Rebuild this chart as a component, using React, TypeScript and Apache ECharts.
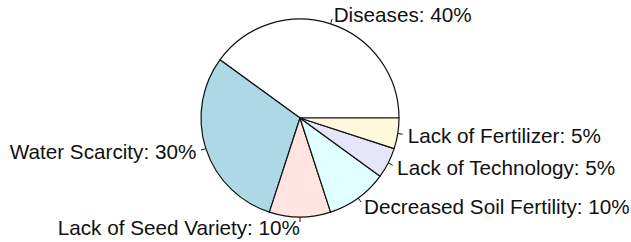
import React, { useEffect, useRef } from "react";
import * as echarts from "echarts";

const categories = [
  "Diseases",
  "Water Scarcity",
  "Lack of Seed Variety",
  "Decreased Soil Fertility",
  "Lack of Technology",
  "Lack of Fertilizer",
];
const values = [40, 30, 10, 10, 5, 5];
const colors = ["#FFFFFF", "#ADD8E6", "#FFE4E1", "#E0FFFF", "#E6E6FA", "#FFF8DC"];

export default function App() {
  const ref = useRef<HTMLDivElement>(null);
  useEffect(() => {
    if (!ref.current) return;
    const chart = echarts.init(ref.current, null, { renderer: "svg" });
    const data = categories.map((name, i) => ({
      name,
      value: values[i],
      itemStyle: { color: colors[i] },
    }));
    const center = [300, 118];
    const radius = 99;
    chart.setOption({
      animation: false,
      backgroundColor: "#ffffff",
      series: [
        {
          type: "pie",
          center,
          radius,
          startAngle: 0,
          clockwise: false,
          avoidLabelOverlap: false,
          silent: true,
          data,
          itemStyle: { borderColor: "#111", borderWidth: 1.2 },
          label: {
            show: true,
            position: "outside",
            formatter: " ",
            fontSize: 1,
            color: "transparent",
            distanceToLabelLine: 0,
          },
          labelLayout: { hideOverlap: false },
          labelLine: {
            show: true,
            length: 5,
            length2: 0,
            smooth: false,
            lineStyle: { color: "#111", width: 1 },
          },
        },
        {
          type: "pie",
          center,
          radius,
          startAngle: 0,
          clockwise: false,
          avoidLabelOverlap: false,
          silent: true,
          data: categories.map((name, i) => ({ name, value: values[i] })),
          itemStyle: { color: "transparent", borderWidth: 0 },
          label: {
            show: true,
            position: "outside",
            formatter: "{b}: {c}%",
            color: "#111",
            fontFamily: "Liberation Sans, Arial, sans-serif",
            fontSize: 20.7,
            distanceToLabelLine: 0,
          },
          labelLayout: { hideOverlap: false },
          labelLine: { show: false, length: 10, length2: 0 },
        },
      ],
    });
    return () => chart.dispose();
  }, []);
  return (
    <div
      ref={ref}
      style={{ position: "fixed", left: 0, top: 0, width: 631, height: 242 }}
    />
  );
}
